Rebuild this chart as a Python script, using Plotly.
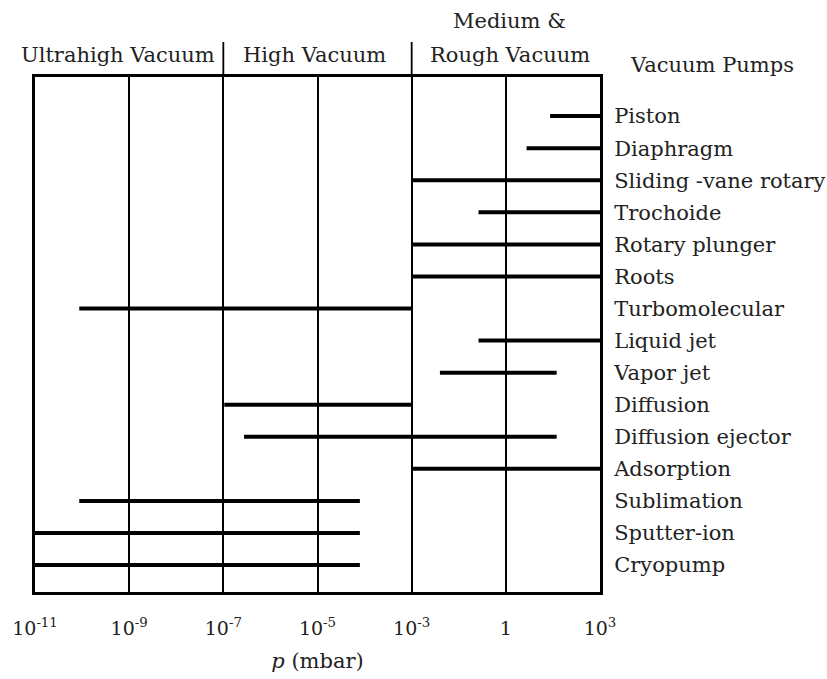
import plotly.graph_objects as go

# Pump names (top to bottom)
pumps = ["Piston", "Diaphragm", "Sliding -vane rotary", "Trochoide", "Rotary plunger",
         "Roots", "Turbomolecular", "Liquid jet", "Vapor jet", "Diffusion",
         "Diffusion ejector", "Adsorption", "Sublimation", "Sputter-ion", "Cryopump"]

# Working ranges in axis scale units (0 = 10^-11, 1 = 10^-9, 2 = 10^-7, 3 = 10^-5, 4 = 10^-3, 5 = 1, 6 = 10^3)
range_start = [5.47, 5.22, 4.0, 4.71, 4.0, 4.0, 0.47, 4.71, 4.30, 2.01, 2.22, 4.0, 0.47, 0.0, 0.0]
range_end   = [6.0, 6.0, 6.0, 6.0, 6.0, 6.0, 4.0, 6.0, 5.54, 4.0, 5.54, 6.0, 3.45, 3.45, 3.45]

tick_pos = [0, 1, 2, 3, 4, 5, 6]
tick_labels = ["10<sup>-11</sup>", "10<sup>-9</sup>", "10<sup>-7</sup>", "10<sup>-5</sup>",
               "10<sup>-3</sup>", "1", "10<sup>3</sup>"]

# Region headers: (lines of text, centre in axis units)
regions = [["Ultrahigh Vacuum"], ["High Vacuum"], ["Medium &", "Rough Vacuum"]]
region_centers = [0.88, 2.97, 5.04]
region_bounds = [2, 4]

FONT = "DejaVu Serif"
TXT = "#222222"

xs, ys = [], []
for i, (s, e) in enumerate(zip(range_start, range_end)):
    xs += [s, e, None]
    ys += [i, i, None]

fig = go.Figure()
fig.add_trace(go.Scatter(x=xs, y=ys, mode="lines",
                         line=dict(color="black", width=4),
                         hoverinfo="skip", showlegend=False))

fig.update_layout(
    template="none",
    width=827, height=679,
    margin=dict(l=35, r=227, t=77, b=87, pad=0, autoexpand=False),
    paper_bgcolor="white", plot_bgcolor="white",
    font=dict(family=FONT, color=TXT, size=21),
    showlegend=False,
)
fig.update_xaxes(
    range=[0, 6], tickmode="array", tickvals=tick_pos, ticktext=tick_labels,
    showgrid=True, gridcolor="black", gridwidth=1.8, zeroline=False,
    showline=True, linecolor="black", linewidth=3, mirror=True, automargin=False,
    ticks="", ticklabelstandoff=17, tickfont=dict(size=19, family=FONT, color=TXT),
    title=dict(text="<i>p</i> (mbar)", standoff=16, font=dict(size=21, family=FONT, color=TXT)),
)
fig.update_yaxes(
    range=[14.84, -1.22], tickmode="array", tickvals=list(range(len(pumps))), ticktext=pumps,
    side="right", showgrid=False, zeroline=False, automargin=False,
    showline=True, linecolor="black", linewidth=3, mirror=True,
    ticks="", ticklabelstandoff=7, tickfont=dict(size=21, family=FONT, color=TXT),
)

row_y = [1.0427, 1.1087]  # bottom line, line above
for lines, cx in zip(regions, region_centers):
    for k, line in enumerate(reversed(lines)):
        fig.add_annotation(x=cx, xref="x", y=row_y[k], yref="paper", text=line,
                           showarrow=False, xanchor="center", yanchor="middle",
                           font=dict(size=21, family=FONT, color=TXT))
for b in region_bounds:
    fig.add_shape(type="line", xref="x", yref="paper", x0=b, x1=b, y0=1.0, y1=1.068,
                  line=dict(color="black", width=1.8))

fig.add_annotation(x=1.198, xref="paper", y=1.0233, yref="paper", text="Vacuum Pumps",
                   showarrow=False, xanchor="center", yanchor="middle",
                   font=dict(size=21, family=FONT, color=TXT))

fig.write_html("out.html", config={"displayModeBar": False},
               post_script="document.body.style.margin='0';")
